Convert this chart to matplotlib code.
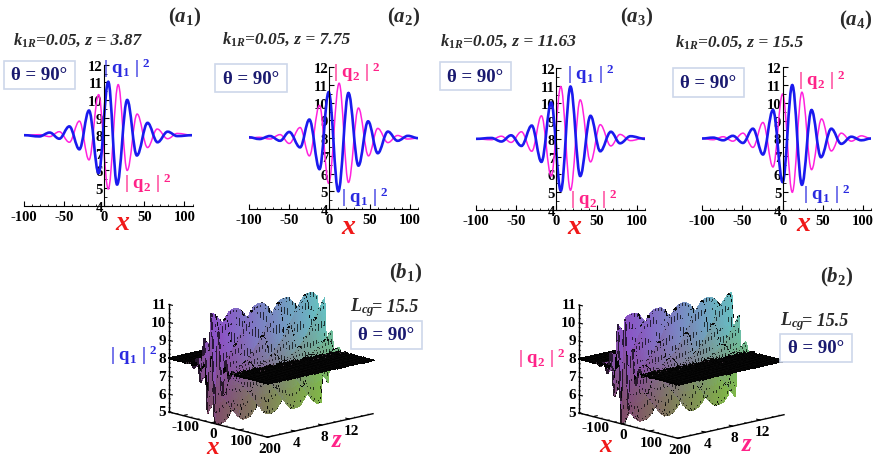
import numpy as np
import matplotlib
matplotlib.use("Agg")
import matplotlib.pyplot as plt
from matplotlib.patches import PathPatch, Rectangle
from matplotlib.path import Path
from mpl_toolkits.mplot3d import proj3d

W, H = 875, 460

a1_q1_x = [-100, -81, -68, -56, -43.5, -31, -19, -7, 5, 16, 28.6, 40.7, 54, 66.4, 79, 91, 110]
a1_q1_y = [8.0, 7.93, 8.15, 7.8, 8.5, 7.2, 9.4, 5.85, 11.03, 5.2, 10.0, 6.85, 8.7, 7.6, 8.2, 7.95, 8.0]
a1_q2_x = [-100, -81, -68, -56, -43.5, -31, -19, -7, 5, 17.4, 28.6, 41, 54, 66, 79, 91, 110]
a1_q2_y = [8.0, 8.03, 7.92, 8.2, 7.6, 8.8, 6.6, 10.3, 4.95, 10.87, 6.0, 9.2, 7.3, 8.35, 7.8, 8.1, 8.0]

a2_q1_x = [-100, -87, -74, -61.4, -50, -36.5, -25, -12.4, -1, 11, 23.6, 36, 48, 60, 72.6, 84.6, 97.5, 110]
a2_q1_y = [8.05, 7.95, 8.12, 7.85, 8.35, 7.48, 9.05, 6.25, 10.6, 5.0, 10.55, 6.45, 8.95, 7.15, 8.37, 7.85, 8.13, 8.0]
a2_q2_x = [-100, -87, -74, -61.4, -50, -36.5, -25, -12.4, -1, 12, 23.6, 36, 48.5, 60, 72.6, 84.6, 97, 110]
a2_q2_y = [8.0, 8.05, 7.95, 8.2, 7.7, 8.6, 7.0, 9.85, 5.45, 11.1, 5.5, 9.7, 7.0, 8.55, 7.75, 8.15, 7.95, 8.0]

a3_q1_x = [-100, -81, -68.5, -56.4, -43.6, -30.7, -18.7, -6.6, 5.4, 17.4, 29.5, 42.3, 54.4, 67.6, 79, 92, 110]
a3_q1_y = [8.0, 8.05, 7.85, 8.2, 7.6, 8.75, 6.7, 10.05, 5.07, 10.95, 5.9, 9.3, 7.3, 8.4, 7.75, 8.15, 8.0]
a3_q2_x = [-100, -81, -68.5, -56.4, -43.6, -30.7, -18.7, -6.6, 5.4, 17.4, 29.5, 42.3, 54.4, 67.6, 79, 92, 110]
a3_q2_y = [8.0, 7.95, 8.15, 7.8, 8.4, 7.3, 9.3, 5.9, 10.95, 5.1, 10.2, 6.7, 8.8, 7.6, 8.25, 7.9, 8.05]

a4_q1_x = [-100, -86.7, -74, -62, -49.4, -37, -24.5, -12, 0, 12, 24, 36, 47.7, 60.6, 73, 85.5, 98, 110]
a4_q1_y = [8.0, 8.05, 7.9, 8.15, 7.75, 8.55, 7.1, 9.6, 5.55, 11.0, 5.4, 9.6, 6.95, 8.55, 7.7, 8.1, 7.9, 8.0]
a4_q2_x = [-100, -86.7, -74, -62, -49.4, -37, -24.5, -12, 0, 12, 24, 36, 48.5, 60.6, 73, 85.5, 98, 110]
a4_q2_y = [8.0, 7.93, 8.1, 7.85, 8.3, 7.5, 8.9, 6.4, 10.5, 4.98, 10.6, 6.25, 9.1, 7.3, 8.3, 7.85, 8.15, 8.0]

x_ticks = [-100, -50, 0, 50, 100]
y_ticks = [4, 5, 6, 7, 8, 9, 10, 11, 12]

# surface: crest lines (x at z=0), and wave height away from 8 against distance from the packet centre
ridge_x0 = [-111.5, -99, -86.5, -74, -61.5, -49, -36.5, -24, -11.5, 1, 13.5, 26, 38.5, 51, 63.5,
            76, 88.5, 101, 113.5, 126, 138.5, 151, 163.5, 176, 188.5, 201, 213.5, 226, 238.5]
ridge_shift = -6.4
center_z = [0, 15.5]
center_x = [5, 14]
env_dist = [0, 6, 12, 19, 25, 31, 37, 44, 50, 56, 62, 69, 75, 87, 100, 130]
b1_env = [3.15, 3.1, 2.8, 2.35, 1.9, 1.45, 1.1, 0.75, 0.5, 0.35, 0.22, 0.14, 0.09, 0.04, 0.02, 0]
b2_env = [3.05, 3.0, 2.75, 2.3, 1.85, 1.4, 1.05, 0.7, 0.5, 0.33, 0.2, 0.13, 0.08, 0.04, 0.02, 0]

surf_x_ticks = [-100, 0, 100, 200]
surf_z_ticks = [4, 8, 12]
surf_y_ticks = [5, 6, 7, 8, 9, 10, 11]

BLUE = "#1a1aee"
MAGENTA = "#ff22dd"
LABEL_BLUE = "#2a2ae0"
LABEL_PINK = "#ff2288"
NAVY = "#1a1a70"
TEXT = "#2a2a2a"

plt.rcParams["font.family"] = ["Liberation Serif", "DejaVu Sans"]
plt.rcParams["font.weight"] = "bold"
plt.rcParams["axes.unicode_minus"] = False
plt.rcParams["mathtext.fontset"] = "custom"
plt.rcParams["mathtext.rm"] = "Liberation Serif:bold"
plt.rcParams["mathtext.it"] = "Liberation Serif:italic:bold"
plt.rcParams["mathtext.bf"] = "Liberation Serif:bold"

fig = plt.figure(figsize=(W / 100, H / 100), dpi=100)


def put(x, y, s, **kw):
    kw.setdefault("ha", "center")
    kw.setdefault("va", "center")
    fig.text(x / W, 1 - y / H, s, **kw)


def theta_box(x0, y0, x1, y1):
    fig.add_artist(Rectangle((x0 / W, 1 - y1 / H), (x1 - x0) / W, (y1 - y0) / H,
                             transform=fig.transFigure, facecolor="white",
                             edgecolor="#cdd7ea", linewidth=1.2))
    put((x0 + x1) / 2, (y0 + y1) / 2, "θ = 90°", color=NAVY, fontsize=13.5)


def smooth_curve(ax, xs, ys, color, lw, zorder):
    # flat tangents at each extremum
    verts = [(xs[0], ys[0])]
    codes = [Path.MOVETO]
    for i in range(len(xs) - 1):
        d = (xs[i + 1] - xs[i]) * 0.37
        verts += [(xs[i] + d, ys[i]), (xs[i + 1] - d, ys[i + 1]), (xs[i + 1], ys[i + 1])]
        codes += [Path.CURVE4] * 3
    ax.add_patch(PathPatch(Path(verts, codes), fill=False, edgecolor=color,
                           linewidth=lw, zorder=zorder, capstyle="round"))


def panel_a(left, right, top, bottom, q1x, q1y, q2x, q2y):
    ax = fig.add_axes([left / W, 1 - bottom / H, (right - left) / W, (bottom - top) / H])
    ax.patch.set_alpha(0)
    ax.set_xlim(-100, 110)
    ax.set_ylim(4, 12)
    smooth_curve(ax, q2x, q2y, MAGENTA, 1.1, 3)
    smooth_curve(ax, q1x, q1y, BLUE, 1.9, 4)
    ax.spines["top"].set_visible(False)
    ax.spines["right"].set_visible(False)
    ax.spines["left"].set_position(("data", 0))
    ax.spines["left"].set_zorder(5)
    ax.set_xticks(x_ticks)
    ax.set_yticks(y_ticks)
    ax.set_xticks(np.arange(-100, 111, 10), minor=True)
    ax.set_yticks(np.arange(4, 12.1, 0.5), minor=True)
    ax.tick_params(direction="in", length=3.5, width=0.8, labelsize=10.5)
    ax.tick_params(which="minor", direction="in", length=1.8, width=0.6)
    ax.tick_params(axis="x", pad=3)
    ax.tick_params(axis="y", pad=1)
    for lab in ax.get_yticklabels():
        lab.set_zorder(6)
    return ax


panel_a(24, 192.5, 65.7, 206.7, a1_q1_x, a1_q1_y, a1_q2_x, a1_q2_y)
panel_a(249, 418, 68.3, 210, a2_q1_x, a2_q1_y, a2_q2_x, a2_q2_y)
panel_a(476, 645, 69, 210.7, a3_q1_x, a3_q1_y, a3_q2_x, a3_q2_y)
panel_a(702.3, 871, 68.3, 210.7, a4_q1_x, a4_q1_y, a4_q2_x, a4_q2_y)

Q1 = r"$\mathbf{|\ q_1\ |^{\ 2}}$"
Q2 = r"$\mathbf{|\ q_2\ |^{\ 2}}$"

for x, y, s in [(185, 17, r"$\mathit{(a_1)}$"), (404, 17, r"$\mathit{(a_2)}$"),
                (637, 17, r"$\mathit{(a_3)}$"), (856, 20, r"$\mathit{(a_4)}$"),
                (406, 273, r"$\mathit{(b_1)}$"), (837, 277, r"$\mathit{(b_2)}$")]:
    put(x, y, s, color=TEXT, fontsize=15)

for x, y, s in [(13, 41, "3.87"), (222, 40, "7.75"), (440, 42, "11.63"), (675, 43, "15.5")]:
    put(x, y, r"$k_{1R}$", color=TEXT, fontsize=12, ha="left")
    put(x + 23, y, "=0.05, z = " + s, color=TEXT, fontsize=12.5, ha="left", style="italic")

for box in [(4, 62, 75, 90), (215, 65, 287, 93), (440, 63, 511, 91), (673, 69, 744, 98),
            (351, 322, 422, 350), (780, 335, 852, 363)]:
    theta_box(*box)

for x, y in [(127, 68), (365, 197), (591, 74), (827, 194)]:
    put(x, y, Q1, color=LABEL_BLUE, fontsize=13.5)
for x, y in [(148, 183), (357, 72), (594, 199), (822, 80)]:
    put(x, y, Q2, color=LABEL_PINK, fontsize=13.5)
put(134, 355, Q1, color=LABEL_BLUE, fontsize=13.5)
put(542, 358, Q2, color=LABEL_PINK, fontsize=13.5)

for x, y in [(123, 224), (349, 228), (575, 228), (804, 225)]:
    put(x, y, r"$\mathit{x}$", color="#f01818", fontsize=20)
for x, y in [(213, 448), (606, 446)]:
    put(x, y, r"$\mathit{x}$", color="#f01818", fontsize=18)
for x, y in [(337, 441), (747, 445)]:
    put(x, y, r"$\mathit{z}$", color="#ff2288", fontsize=18)

put(350, 308, r"$L_{cg}$", color=TEXT, fontsize=13, ha="left")
put(372, 308, "= 15.5", color=TEXT, fontsize=13, style="italic", ha="left")
put(780, 322, r"$L_{cg}$", color=TEXT, fontsize=13, ha="left")
put(802, 322, "= 15.5", color=TEXT, fontsize=13, style="italic", ha="left")


def surface_grid(env, sign):
    # repeated z or x values give zero width cells, those become the mesh lines
    zv = []
    z = 0.0
    while z < 15.5:
        zv += [z, z, z + 0.14, z + 0.28, z + 0.42]
        z += 0.56
    zv = np.array(zv + [15.5])
    xv = []
    x = -150.0
    while x < 200:
        xv += [x, x]
        for k in range(1, 12):
            xv.append(x + 1.75 * k)
        x += 21
    xv = np.array(xv + [200.0])
    x0 = np.array(ridge_x0, dtype=float)
    signs = np.array([1 if (i % 2 == 0) else -1 for i in range(len(x0))]) * sign
    out = np.zeros((len(zv), len(xv)))
    for r, zz in enumerate(zv):
        px = x0 + ridge_shift * zz
        hh = 8 + signs * np.interp(np.abs(px - np.interp(zz, center_z, center_x)), env_dist, env)
        px = np.concatenate([[-2000], px, [2000]])
        hh = np.concatenate([[8.0], hh, [8.0]])
        t = np.interp(xv, px, np.arange(len(px)))
        i = np.minimum(t.astype(int), len(px) - 2)
        f = t - i
        f = f * f * (3 - 2 * f)
        out[r] = hh[i] + (hh[i + 1] - hh[i]) * f
    return xv, zv, out


def surface_colors(xv, zv, h):
    low_near = np.array([0.50, 0.30, 0.42])
    high_near = np.array([0.55, 0.32, 0.78])
    low_far = np.array([0.50, 0.72, 0.28])
    high_far = np.array([0.40, 0.75, 0.75])
    cols = np.zeros(h.shape + (4,))
    cols[..., 3] = 1
    for r in range(len(zv)):
        a = zv[r] / 15.5
        b = np.clip((h[r] - 5.5) / 5, 0, 1)
        for k in range(3):
            near = low_near[k] + (high_near[k] - low_near[k]) * b
            far = low_far[k] + (high_far[k] - low_far[k]) * b
            cols[r, :, k] = near + (far - near) * a
    flat = np.abs(h - 8) < 0.1
    cols[flat, :3] = 0.02
    for r in range(0, len(zv), 5):
        for c in range(len(xv)):
            if 0.015 < abs(h[r, c] - 8) < 0.1 and c % 4 == 0:
                cols[r, c, :3] = [0.85, 0.68, 0.8]
    edges = cols.copy()
    edges[..., 3] = 0
    # zero width cells are the black lines
    rows = np.flatnonzero(zv[:-1] == zv[1:])
    columns = np.flatnonzero(xv[:-1] == xv[1:])
    cols[rows, :, :3] *= 0.3
    edges[rows, :, :3] = cols[rows, :, :3]
    edges[rows, :, 3] = 1
    cols[:, columns, :3] = 0.03
    edges[:, columns, :3] = 0.03
    edges[:, columns, 3] = 1
    return cols, edges


def panel_b(env, sign, left_px, right_px):
    ax = fig.add_axes([0.1, 0.1, 300 / W, 300 / H], projection="3d", computed_zorder=False)
    ax.set_proj_type("ortho")
    ax.view_init(elev=13.8, azim=-43)
    ax.set_xlim(-150, 200)
    ax.set_ylim(0, 15.5)
    ax.set_zlim(5, 11)
    ax.set_box_aspect((1, 1, 0.767))
    ax.set_axis_off()
    ax.patch.set_alpha(0)

    # fit the box corners onto the pixel positions of the axis corners
    def corner_px(pt):
        xs, ys, _ = proj3d.proj_transform(pt[0], pt[1], pt[2], ax.get_proj())
        return ax.transData.transform((xs, ys))

    ax.apply_aspect()
    a = corner_px((-150, 0, 5))
    c = corner_px((200, 15.5, 5))
    s = (right_px[0] - left_px[0]) / (c[0] - a[0])
    size = 300 * s
    ax.set_position([0.1, 0.1, size / W, size / H])
    ax.apply_aspect()
    a = corner_px((-150, 0, 5))
    ax.set_position([0.1 + (left_px[0] - a[0]) / W, 0.1 + (H - left_px[1] - a[1]) / H,
                     size / W, size / H])
    ax.apply_aspect()

    xv, zv, h = surface_grid(env, sign)
    X, Z = np.meshgrid(xv, zv)
    cols, edges = surface_colors(xv, zv, h)
    surf = ax.plot_surface(X, Z, h, facecolors=cols, rstride=1, cstride=1, shade=False,
                           linewidth=0.7, antialiased=False, zorder=1)
    surf.set_edgecolor(edges[:-1, :-1].reshape(-1, 4))

    ax.plot([-150, -150], [0, 0], [5, 11], color="k", lw=1, zorder=5)
    ax.plot([-150, 200], [0, 0], [5, 5], color="k", lw=1, zorder=5)
    ax.plot([200, 200], [0, 15.5], [5, 5], color="k", lw=1, zorder=5)
    for v in surf_y_ticks:
        ax.plot([-150, -138], [0, 0], [v, v], color="k", lw=0.8, zorder=5)
        p = corner_px((-150, 0, v))
        put(p[0] - 3, H - p[1], str(v), ha="right", fontsize=11)
    for v in np.arange(5, 11.1, 0.25):
        ax.plot([-150, -144], [0, 0], [v, v], color="k", lw=0.5, zorder=5)
    for v in surf_x_ticks:
        ax.plot([v, v], [0, 0.6], [5, 5], color="k", lw=0.8, zorder=5)
        p = corner_px((v, 0, 5))
        put(p[0] + 2, H - p[1] + 11, str(v), fontsize=11)
    for v in np.arange(-150, 201, 25):
        ax.plot([v, v], [0, 0.3], [5, 5], color="k", lw=0.5, zorder=5)
    for v in surf_z_ticks:
        ax.plot([200, 188], [v, v], [5, 5], color="k", lw=0.8, zorder=5)
        p = corner_px((200, v, 5))
        put(p[0] + 2, H - p[1] + 11, str(v), fontsize=11)
    for v in np.arange(0, 15.6, 1):
        ax.plot([200, 194], [v, v], [5, 5], color="k", lw=0.5, zorder=5)
    return ax


panel_b(b1_env, -1, (169, 413), (373, 413))
panel_b(b2_env, 1, (579, 414), (784, 415))

fig.savefig("out.png", dpi=100)
